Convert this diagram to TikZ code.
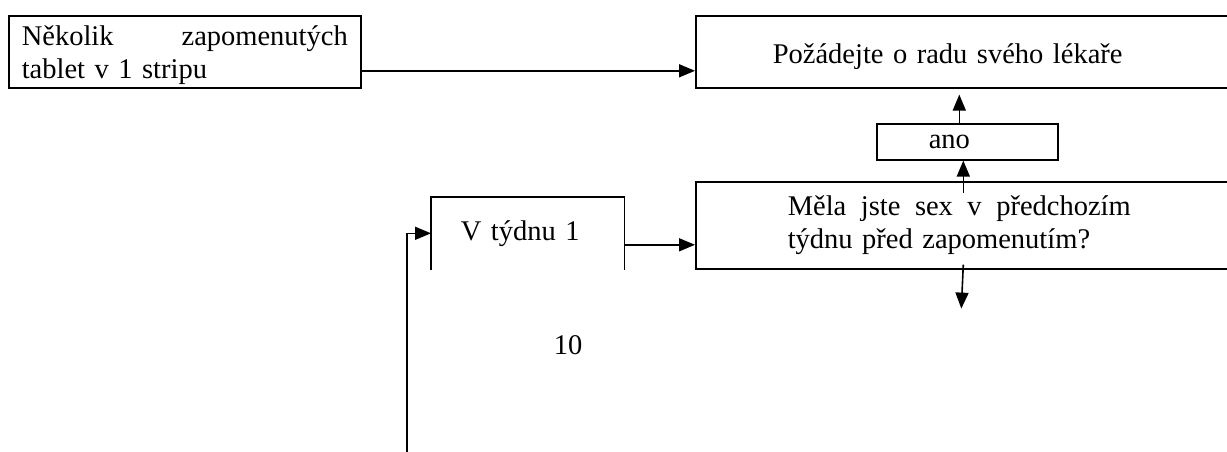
\documentclass[tikz,border=0pt]{standalone}
\usepackage{fontspec}
\setmainfont{Liberation Serif}
\usetikzlibrary{arrows.meta}

\begin{document}
\begin{tikzpicture}[x=1pt, y=-1pt, line width=1.6pt,
    font=\fontsize{28.5}{33}\selectfont,
    box/.style={draw, rectangle, anchor=north west, inner ysep=0pt, align=left},
    arr/.style={-{Triangle[length=16pt, width=13pt]}}]
    \useasboundingbox (0,0) rectangle (1227,452);
    \clip (0,0) rectangle (1227,452);

    % left box
    \node[box, minimum width=352pt, minimum height=72pt, text width=326pt, inner xsep=13pt, text height=27pt] (nekolik) at (8,15)
        {\makebox[326pt]{Několik\hfill zapomenutých}\\tablet v 1 stripu};

    % top right box, runs off the page
    \node[box, minimum width=560pt, minimum height=72pt, text width=406pt, inner xsep=77pt, text height=29pt] (lekar) at (695,15)
        {Požádejte o radu svého lékaře};

    % ano
    \node[box, minimum width=181pt, minimum height=36pt, text width=77pt, inner xsep=52pt] (ano) at (876,123) {ano};

    % question box
    \node[box, minimum width=560pt, minimum height=87pt, text width=376pt, inner xsep=92pt] (otazka) at (695,181)
        {\makebox[343pt]{Měla\hfill jste\hfill sex\hfill v\hfill předchozím}\\týdnu před zapomenutím?};

    % V tydnu 1, open at the bottom
    \node[box, draw=none, minimum width=192pt, minimum height=71pt, text width=134pt, inner xsep=29pt] (tyden) at (431,197) {V týdnu 1};
    \draw (tyden.south west) -- (tyden.north west) -- (tyden.north east) -- (tyden.south east);

    \node (deset) at (568,345) {10};

    % arrows
    \draw[arr] ([yshift=-19pt]nekolik.east) -- ([yshift=-19pt]nekolik.east -| lekar.west);
    \draw[arr, shorten >=6pt] ([xshift=-8pt]ano.north) -- ([xshift=-8pt]ano.north |- lekar.south);
    \draw[arr] ([xshift=-4pt]ano.south |- otazka.north) ++(0,12) -- ([xshift=-4pt]ano.south);
    \draw[arr] ([xshift=-4pt]ano.south |- otazka.south) ++(0,-5) coordinate (dolu) -- ++(-2,44);
    \draw[arr] ([yshift=-11.5pt]tyden.east) -- ([yshift=-11.5pt]tyden.east -| otazka.west);
    \coordinate (zdola) at (407,455);
    \draw[arr] (zdola) |- (tyden.west);
\end{tikzpicture}
\end{document}
